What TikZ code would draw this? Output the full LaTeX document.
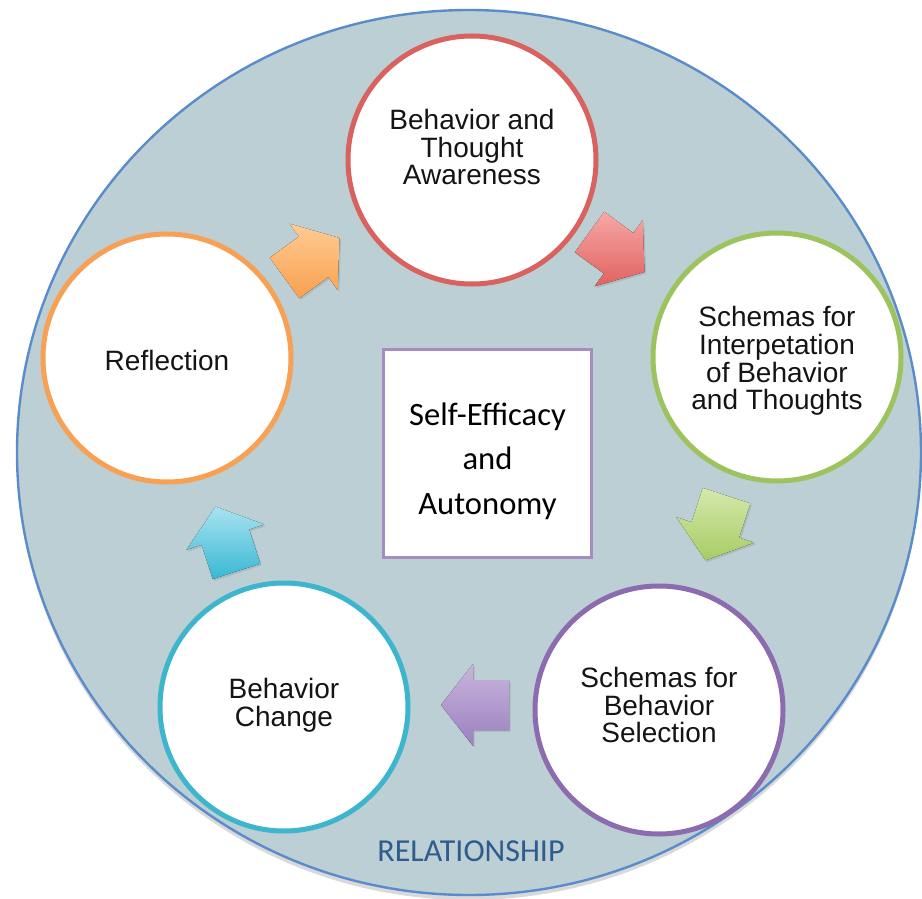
\documentclass[tikz,border=0pt]{standalone}
\usepackage{fontspec}
\setmainfont{Liberation Sans}
\newfontfamily\calibri{Carlito}
\usetikzlibrary{shapes.geometric,shadows}

\definecolor{ringfill}{HTML}{BCCFD4}
\definecolor{ringline}{HTML}{5A8CCB}
\definecolor{relblue}{HTML}{2E5C8E}
\definecolor{redrim}{HTML}{DA625E}
\definecolor{greenrim}{HTML}{9DC35E}
\definecolor{purplerim}{HTML}{8C6BAF}
\definecolor{cyanrim}{HTML}{3DB5CC}
\definecolor{orangerim}{HTML}{F8A053}
\definecolor{boxline}{HTML}{A58DC3}
\definecolor{redtop}{HTML}{F7A8A6}
\definecolor{redbot}{HTML}{E0625F}
\definecolor{greentop}{HTML}{D5E8AC}
\definecolor{greenbot}{HTML}{A8CC65}
\definecolor{purpletop}{HTML}{C9B5DE}
\definecolor{purplebot}{HTML}{9B80BF}
\definecolor{cyantop}{HTML}{A8E3F1}
\definecolor{cyanbot}{HTML}{38B8D3}
\definecolor{orangetop}{HTML}{FFCB93}
\definecolor{orangebot}{HTML}{F9A04F}

\tikzset{
  stage/.style={circle, draw=#1, line width=2.5pt, fill=white, minimum size=124pt, inner sep=0pt},
  stagetext/.style={align=center, font=\fontsize{14}{13.8}\selectfont, text=black!92},
  arrowshadow/.style={drop shadow={shadow xshift=0.8pt, shadow yshift=-0.9pt, opacity=0.25}},
}

\begin{document}
\begin{tikzpicture}[x=0.5pt, y=-0.5pt]
	\useasboundingbox (0,0) rectangle (922,899);
	% outer relationship ring
	\node[ellipse, draw=ringline, line width=1.2pt, fill=ringfill, minimum width=452pt, minimum height=442.5pt, inner sep=0pt,
	      drop shadow={shadow xshift=0pt, shadow yshift=-2.5pt, opacity=0.3}] (ring) at (469,452.5) {};
	\node[font=\calibri\fontsize{16}{18}\selectfont, text=relblue] (rel) at (471,851) {RELATIONSHIP};

	% the five stages
	\node[stage=redrim] (aware) at (472,160) {};
	\node[stage=greenrim] (interp) at (777,357) {};
	\node[stage=purplerim] (select) at (659,710) {};
	\node[stage=cyanrim] (change) at (284,707) {};
	\node[stage=orangerim] (reflect) at (167,358) {};
	\node[stagetext] (awaretxt) at (472,147) {Behavior and\\Thought\\Awareness};
	\node[stagetext] (interptxt) at (777,361) {Schemas for\\Interpetation\\of Behavior\\and Thoughts};
	\node[stagetext] (selecttxt) at (659,705) {Schemas for\\Behavior\\Selection};
	\node[stagetext] (changetxt) at (284,705) {Behavior\\Change};
	\node[stagetext] (reflecttxt) at (167,360) {Reflection};

	% centre box
	\node[draw=boxline, line width=1.5pt, fill=white, minimum width=104pt, minimum height=104pt, inner sep=0pt] (core) at (487.5,453) {};
	\node[align=center, font=\calibri\fontsize{16.3}{22.3}\selectfont] (coretxt) at (487.5,461) {Self-Efficacy\\and\\Autonomy};

	% block arrows between stages
	\foreach \cx/\cy/\ang/\topc/\botc in {617/252/-36/redtop/redbot, 716/528/-108/greentop/greenbot,
	    475/705/180/purpletop/purplebot, 226/539/108/cyantop/cyanbot, 312/258/36/orangetop/orangebot}
	  \fill[shift={(\cx,\cy)}, rotate=\ang, top color=\topc, bottom color=\botc, arrowshadow]
	    (-17pt,-12.5pt) -- (1pt,-12.5pt) -- (1pt,-20.5pt) -- (17pt,0pt) -- (1pt,20.5pt) -- (1pt,12.5pt) -- (-17pt,12.5pt) -- cycle;
\end{tikzpicture}
\end{document}
